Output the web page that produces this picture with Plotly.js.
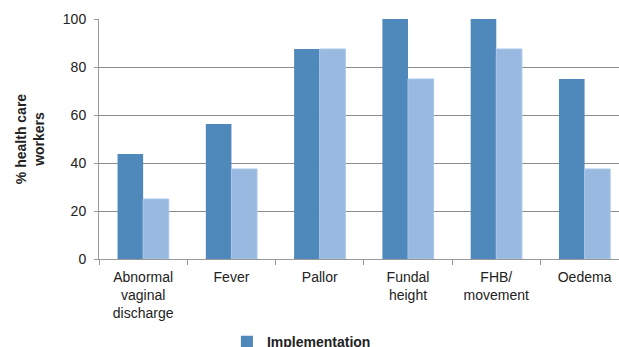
<!DOCTYPE html>
<html><head><meta charset="utf-8">
<script src="https://cdn.plot.ly/plotly-3.0.1.min.js"></script>
<style>html,body{margin:0;padding:0;background:#fff;overflow:hidden}#chart{width:619px;height:390px}</style>
</head><body><div id="chart"></div>
<script>
const categories = ["Abnormal<br>vaginal<br>discharge", "Fever", "Pallor", "Fundal<br>height", "FHB/<br>movement", "Oedema"];
const implementation = [43.75, 56.25, 87.5, 100, 100, 75];
const baseline = [25, 37.5, 87.5, 75, 87.5, 37.5];
const seriesNames = ["Implementation", "Baseline"];

const traces = [
  {type: "bar", x: categories, y: implementation, name: seriesNames[0],
   marker: {color: "#4f88bb", line: {color: "#4f88bb", width: 0}}},
  {type: "bar", x: categories, y: baseline, name: seriesNames[1],
   marker: {color: "#98b9e0", line: {color: "#a9c6e8", width: 1}}}
];

const layout = {
  width: 619, height: 390,
  margin: {l: 99, r: 0, t: 19, b: 131},
  paper_bgcolor: "#fff", plot_bgcolor: "#fff",
  barmode: "group", bargap: 0.42, bargroupgap: 0,
  font: {family: "Liberation Sans, Arial, sans-serif", color: "#222", size: 14},
  xaxis: {
    type: "category", range: [-0.5, 5.39], tickson: "boundaries",
    ticks: "outside", ticklen: 5, tickcolor: "#999",
    showline: true, linecolor: "#999", linewidth: 1,
    showgrid: false, tickfont: {size: 14}, automargin: false, tickangle: 0,
    ticklabelstandoff: 5
  },
  yaxis: {
    range: [0, 100], tickvals: [0, 20, 40, 60, 80, 100],
    ticks: "outside", ticklen: 4, tickcolor: "#999",
    showline: true, linecolor: "#999", linewidth: 1,
    gridcolor: "#8c8c8c", gridwidth: 1, zeroline: false,
    tickfont: {size: 14}, automargin: false, ticklabelstandoff: 5,
    title: {text: "<b>% health care<br>workers</b>", font: {size: 14}, standoff: 14}
  },
  showlegend: true,
  legend: {orientation: "v", x: 0.246, xanchor: "left", y: -0.28, yanchor: "top",
    font: {size: 14, weight: "bold"}, itemwidth: 30, tracegroupgap: 2}
};

Plotly.newPlot("chart", traces, layout, {displayModeBar: false, staticPlot: true});
</script></body></html>
